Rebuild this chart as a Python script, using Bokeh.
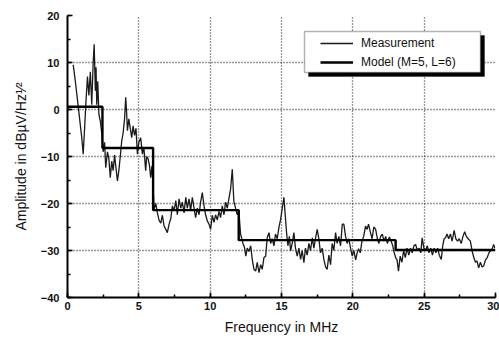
from bokeh.plotting import figure
from bokeh.models import (Range1d, SingleIntervalTicker, FixedTicker,
                          BoxAnnotation, Legend, LegendItem)
from bokeh.embed import file_html
from bokeh.resources import INLINE

# Measurement trace (frequency in MHz, amplitude in dBuV/Hz^1/2)
meas_freq = [
    0.40, 0.55, 0.70, 0.85, 1.00, 1.10, 1.20, 1.30, 1.40, 1.50, 1.60, 1.70, 1.80, 1.87, 1.95,
    2.00, 2.05, 2.12, 2.20, 2.30, 2.40,
    2.50, 2.60, 2.68, 2.80, 2.90, 3.00, 3.10, 3.20, 3.30, 3.40, 3.50, 3.60, 3.70, 3.80, 3.90,
    4.00, 4.08, 4.15, 4.20, 4.30, 4.40, 4.50, 4.60, 4.70, 4.80, 4.90, 5.00, 5.13, 5.25, 5.35,
    5.48, 5.55, 5.65, 5.75, 5.83, 5.92, 6.00,
    6.07, 6.19, 6.30, 6.42, 6.54, 6.65, 6.77, 6.89, 7.00, 7.12, 7.24, 7.35, 7.47, 7.59, 7.70,
    7.82, 7.94, 8.05, 8.17, 8.29, 8.40, 8.52, 8.63, 8.75, 8.87, 8.98, 9.10, 9.22, 9.33, 9.45,
    9.57, 9.68, 9.80, 9.92, 10.03, 10.15, 10.27, 10.38, 10.50, 10.62, 10.73, 10.85, 10.97,
    11.08, 11.20, 11.31, 11.43, 11.55, 11.66, 11.78, 11.90, 12.01, 12.13, 12.25,
    12.30, 12.40, 12.50, 12.60, 12.72, 12.84, 12.95, 13.07, 13.19, 13.30, 13.42, 13.54, 13.65,
    13.77, 13.89, 14.00, 14.12, 14.24, 14.35, 14.47, 14.58, 14.70, 14.82, 14.93, 15.06, 15.17,
    15.25, 15.35, 15.45, 15.55, 15.64, 15.75, 15.87, 15.98, 16.10, 16.22, 16.34, 16.45, 16.57,
    16.68, 16.80, 16.92, 17.03, 17.16, 17.27, 17.38, 17.50, 17.62, 17.73, 17.85, 17.97, 18.09,
    18.20, 18.32, 18.44, 18.55, 18.67, 18.79, 18.90, 19.02, 19.14, 19.26, 19.37, 19.49, 19.60,
    19.72, 19.84, 19.96, 20.07, 20.20, 20.30, 20.40, 20.52, 20.64, 20.76, 20.89, 21.00, 21.10,
    21.22, 21.35, 21.47, 21.60, 21.72, 21.83, 21.95, 22.07, 22.18, 22.30, 22.42, 22.56, 22.68,
    22.80, 22.90, 23.00, 23.10, 23.20, 23.32, 23.44, 23.56, 23.68, 23.80, 23.92, 24.04, 24.16,
    24.28, 24.40, 24.52, 24.64, 24.76, 24.86, 24.98, 25.10, 25.22, 25.34, 25.46, 25.58, 25.70,
    25.82, 25.94, 26.06, 26.20, 26.30, 26.40, 26.50, 26.60, 26.72, 26.84, 26.96, 27.10, 27.22,
    27.34, 27.46, 27.60, 27.72, 27.84, 27.96, 28.08, 28.24, 28.36, 28.48, 28.60, 28.70, 28.82,
    28.94, 29.06, 29.17, 29.30, 29.42, 29.54, 29.66, 29.76, 29.87, 29.95,
]
meas_amp = [
    9.5, 6.0, 2.0, -2.0, -6.0, -9.5, -4.0, 2.0, 7.0, 3.0, 8.0, 1.0, 10.0, 13.9, 4.0,
    9.0, 1.0, 6.0, -1.0, -2.5, -5.0,
    -9.0, -7.0, -12.4, -9.0, -10.5, -14.5, -11.0, -13.0, -9.7, -12.5, -15.2, -13.0, -10.0, -6.7, -5.0,
    -2.0, 2.6, -1.0, -4.5, -2.0, -4.0, -6.0, -3.5, -5.5, -4.0, -9.5, -7.0, -6.0, -9.5, -8.0,
    -13.0, -10.0, -10.5, -12.0, -14.5, -12.0, -16.6,
    -21.2, -20.0, -22.0, -23.6, -24.2, -22.5, -24.8, -25.5, -26.2, -24.4, -23.2, -20.5, -21.5, -19.4, -22.4,
    -19.0, -21.0, -19.7, -22.0, -18.7, -21.0, -19.0, -21.5, -18.7, -21.0, -23.0, -21.0, -22.4, -19.7, -17.7,
    -20.5, -22.4, -23.7, -24.4, -25.5, -22.5, -24.0, -22.4, -23.5, -21.7, -23.0, -20.5, -22.4,
    -19.7, -21.0, -19.0, -17.0, -12.7, -19.5, -21.0, -22.4, -21.5, -26.5, -27.9,
    -28.5, -29.3, -31.2, -29.5, -30.2, -29.0, -31.9, -34.0, -34.4, -32.5, -34.7, -33.0, -34.0,
    -31.5, -31.2, -27.3, -26.2, -28.5, -27.5, -29.0, -26.5, -27.5, -25.1, -23.5, -20.9, -18.7,
    -22.0, -26.0, -29.0, -27.0, -30.1, -28.5, -26.2, -29.5, -31.2, -29.5, -31.9, -30.0, -32.6,
    -29.5, -31.0, -28.5, -30.0, -27.3, -29.5, -27.5, -25.5, -27.5, -30.5, -29.5, -31.9, -33.5,
    -34.0, -31.0, -33.0, -28.5, -30.0, -26.2, -28.5, -27.0, -29.0, -24.4, -24.4, -27.0, -28.5,
    -27.5, -29.5, -31.2, -30.0, -32.0, -30.5, -29.6, -30.5, -28.0, -27.0, -24.8, -25.5, -24.4,
    -26.0, -27.5, -25.0, -25.5, -27.5, -28.5, -27.0, -26.5, -28.0, -27.0, -28.5, -27.1, -28.0,
    -29.0, -30.5, -31.5, -32.0, -34.4, -31.2, -32.5, -30.0, -31.5, -29.5, -31.0, -29.5, -30.5,
    -29.0, -28.7, -30.0, -29.5, -30.5, -27.3, -29.5, -30.0, -29.0, -30.5, -29.5, -31.0, -29.5,
    -30.5, -29.5, -31.0, -31.9, -29.0, -27.5, -27.3, -26.5, -27.5, -26.5, -28.0, -25.7, -27.5,
    -28.0, -27.5, -28.5, -27.0, -26.0, -27.0, -27.5, -28.0, -30.1, -31.5, -32.5, -32.2, -33.7,
    -32.5, -33.5, -33.3, -32.0, -31.5, -30.5, -30.0, -29.7, -28.7, -29.5,
]

# Model (M=5, L=6): piecewise-constant levels
model_edges = [0.0, 2.45, 6.0, 12.0, 23.0, 30.0]
model_levels = [0.6, -8.2, -21.4, -27.8, -29.9]

x_grid = [5, 10, 15, 20, 25]
y_grid = [-30, -20, -10, 0, 10]

# build step line from model data
model_x, model_y = [], []
for i, lvl in enumerate(model_levels):
    model_x += [model_edges[i], model_edges[i + 1]]
    model_y += [lvl, lvl]

p = figure(width=499, height=338, output_backend="svg", toolbar_location=None,
           x_range=Range1d(0, 30), y_range=Range1d(-40, 20),
           min_border_left=67, min_border_right=4, min_border_top=15, min_border_bottom=41)
p.outline_line_color = None
p.background_fill_color = "white"
p.border_fill_color = "white"

FONT = "Liberation Sans"

r_meas = p.line(meas_freq, meas_amp, line_color="#1a1a1a", line_width=1.3)
r_model = p.line(model_x, model_y, line_color="black", line_width=2.4)

# axes
for ax in (p.xaxis[0], p.yaxis[0]):
    ax.axis_line_width = 2
    ax.axis_line_color = "black"
    ax.major_tick_in = 5
    ax.major_tick_out = 0
    ax.minor_tick_in = 3
    ax.minor_tick_out = 0
    ax.major_tick_line_width = 1.5
    ax.minor_tick_line_width = 1.5
    ax.major_label_text_font = FONT
    ax.major_label_text_font_style = "bold"
    ax.major_label_text_font_size = "11px"
    ax.major_label_text_color = "#111"
    ax.axis_label_text_font = FONT
    ax.axis_label_text_font_style = "normal"
    ax.axis_label_text_font_size = "14px"
    ax.axis_label_text_color = "#111"

p.xaxis[0].ticker = SingleIntervalTicker(interval=5, num_minor_ticks=2)
p.yaxis[0].ticker = SingleIntervalTicker(interval=10, num_minor_ticks=2)
p.xaxis[0].major_label_standoff = 4
p.yaxis[0].major_label_standoff = 8
p.xaxis[0].axis_label = "Frequency in MHz"
p.xaxis[0].axis_label_standoff = 6
p.yaxis[0].axis_label = "Amplitude in dBµV/Hz¹⁄²"
p.yaxis[0].axis_label_standoff = 9

# grid
p.xgrid[0].ticker = FixedTicker(ticks=x_grid)
p.ygrid[0].ticker = FixedTicker(ticks=y_grid)
for g in (p.xgrid[0], p.ygrid[0]):
    g.grid_line_color = "#333333"
    g.grid_line_dash = "1 2"
    g.grid_line_width = 1.3

# legend box with shadow
shadow = BoxAnnotation(left=241, right=417, bottom=221, top=262,
                       left_units="screen", right_units="screen",
                       bottom_units="screen", top_units="screen",
                       fill_color="black", fill_alpha=1, line_color="black", level="overlay")
box = BoxAnnotation(left=237, right=413, bottom=225, top=266,
                    left_units="screen", right_units="screen",
                    bottom_units="screen", top_units="screen",
                    fill_color="white", fill_alpha=1, line_color="black", line_width=1.5,
                    level="overlay")
p.add_layout(shadow)
p.add_layout(box)

legend = Legend(items=[LegendItem(label="Measurement", renderers=[r_meas]),
                       LegendItem(label="Model (M=5, L=6)", renderers=[r_model])],
                location=(253, 227), padding=0, margin=0, spacing=3,
                glyph_width=33, glyph_height=16, label_height=16, label_standoff=8,
                label_text_font=FONT, label_text_font_size="12px", label_text_color="#111",
                border_line_color=None, background_fill_alpha=0)
p.add_layout(legend)

open("out.html", "w").write(file_html(p, INLINE))
